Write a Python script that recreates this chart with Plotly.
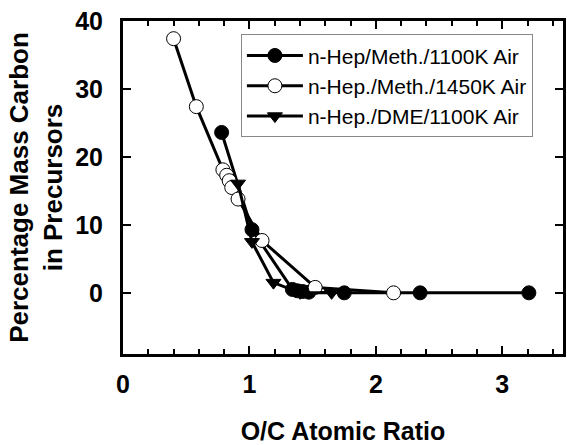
import plotly.graph_objects as go

# O/C atomic ratio vs percentage mass carbon in precursors
meth1100_x = [0.78, 1.02, 1.34, 1.38, 1.42, 1.47, 1.75, 2.35, 3.21]
meth1100_y = [23.6, 9.3, 0.5, 0.3, 0.2, 0.1, 0.0, 0.0, 0.0]

meth1450_x = [0.40, 0.58, 0.79, 0.82, 0.84, 0.86, 0.91, 1.10, 1.52, 2.14]
meth1450_y = [37.4, 27.4, 18.1, 17.3, 16.5, 15.5, 13.8, 7.7, 0.8, 0.0]

dme1100_x = [0.91, 1.02, 1.19, 1.40, 1.65]
dme1100_y = [16.1, 7.5, 1.5, 0.0, 0.0]

names = ["n-Hep/Meth./1100K Air", "n-Hep./Meth./1450K Air", "n-Hep./DME/1100K Air"]
x_ticks = [0, 1, 2, 3]
y_ticks = [0, 10, 20, 30, 40]

FONT = "Arial, Liberation Sans, sans-serif"

fig = go.Figure()
fig.add_trace(go.Scatter(
    x=meth1100_x, y=meth1100_y, name=names[0], mode="lines+markers",
    line=dict(color="black", width=3),
    marker=dict(symbol="circle", size=14, color="black", line=dict(color="black", width=1)),
))
fig.add_trace(go.Scatter(
    x=meth1450_x, y=meth1450_y, name=names[1], mode="lines+markers",
    line=dict(color="black", width=3),
    marker=dict(symbol="circle", size=14, color="white", line=dict(color="black", width=1)),
))
fig.add_trace(go.Scatter(
    x=dme1100_x, y=dme1100_y, name=names[2], mode="lines+markers",
    line=dict(color="black", width=3),
    marker=dict(symbol="triangle-down", size=13, color="black", line=dict(color="black", width=1)),
))

fig.update_layout(
    width=567, height=445,
    margin=dict(l=123, r=1, t=21, b=91),
    paper_bgcolor="white", plot_bgcolor="white",
    font=dict(family=FONT, color="black"),
    showlegend=True,
    legend=dict(
        x=0.268, y=0.96, xanchor="left", yanchor="top",
        bordercolor="#888888", borderwidth=1, bgcolor="white",
        font=dict(family=FONT, size=21, color="black"),
        itemwidth=56,
    ),
    xaxis=dict(
        range=[0, 3.48], tickvals=x_ticks, ticktext=[str(v) for v in x_ticks],
        ticks="inside", ticklen=8, tickwidth=2, tickcolor="black",
        minor=dict(dtick=0.2, ticks="inside", ticklen=5, tickwidth=1.5, tickcolor="black"),
        showline=True, linewidth=3, linecolor="black", mirror="ticks",
        showgrid=False, zeroline=False,
        ticklabelstandoff=6,
        tickfont=dict(family=FONT, size=25, color="black", weight="bold"),
        title=dict(text="O/C Atomic Ratio", standoff=26,
                   font=dict(family=FONT, size=25, color="black", weight="bold")),
    ),
    yaxis=dict(
        range=[-9, 40], tickvals=y_ticks, ticktext=[str(v) for v in y_ticks],
        ticks="inside", ticklen=8, tickwidth=2, tickcolor="black",
        showline=True, linewidth=3, linecolor="black", mirror="ticks",
        showgrid=False, zeroline=False,
        ticklabelstandoff=12,
        tickfont=dict(family=FONT, size=25, color="black", weight="bold"),
        title=dict(text="Percentage Mass Carbon<br>in Precursors", standoff=6,
                   font=dict(family=FONT, size=26, color="black", weight="bold")),
    ),
)

fig.write_html("out.html")
